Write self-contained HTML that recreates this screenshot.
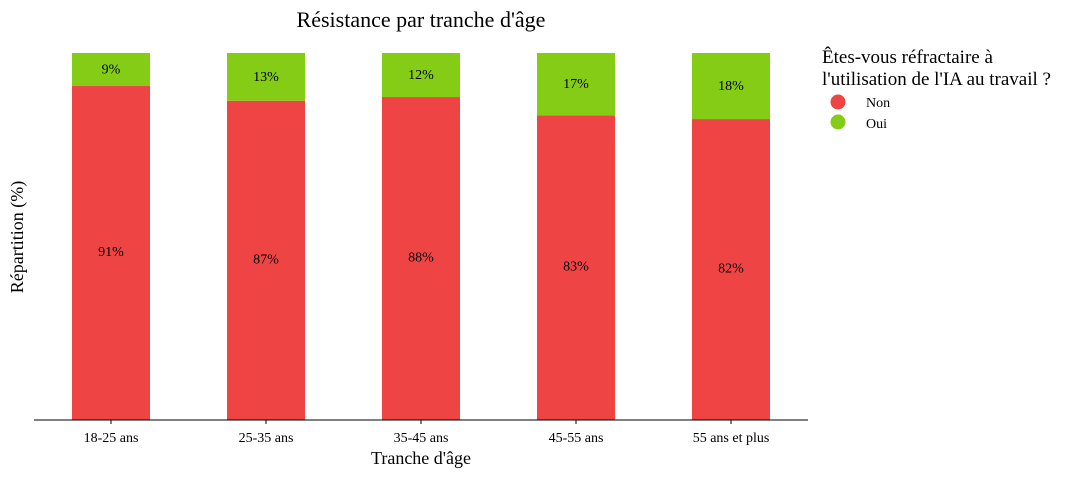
<!DOCTYPE html>
<html><head><meta charset="utf-8"><style>
html,body{margin:0;padding:0;background:#fff;}
svg{display:block;font-family:"Liberation Serif","DejaVu Serif",serif;}
</style></head><body>
<svg id="chart" width="1073" height="477">
<text x="421" y="27" font-size="22" text-anchor="middle">Résistance par tranche d'âge</text>
<text transform="translate(23,237) rotate(-90)" font-size="18" text-anchor="middle">Répartition (%)</text>
<text x="421" y="464" font-size="18" text-anchor="middle">Tranche d'âge</text>
<g id="bars"></g>
<g id="ticks"></g>
<line x1="34" x2="808" y1="420" y2="420" stroke="#000" stroke-width="1"/>
<g>
<text x="822" y="63" font-size="19">Êtes-vous réfractaire à</text>
<text x="822" y="85" font-size="19">l'utilisation de l'IA au travail ?</text>
<g><circle cx="838" cy="102" r="7.5" fill="#EF4444"/><text x="866" y="107" font-size="14">Non</text></g>
<g><circle cx="838" cy="122" r="7.5" fill="#84CC16"/><text x="866" y="128" font-size="14">Oui</text></g>
</g>
</svg>
<script>
const categories=["18-25 ans","25-35 ans","35-45 ans","45-55 ans","55 ans et plus"];
const nonValues=[91,87,88,83,82];
const ouiValues=[9,13,12,17,18];
const NS="http://www.w3.org/2000/svg";
const x0=34,step=155,bw=78,yBase=420,yTop=53;
const xc=i=>x0+77+i*step;
const y=v=>yBase-(v/100)*(yBase-yTop);
const bars=document.getElementById('bars'),ticks=document.getElementById('ticks');
function mk(t,a){const e=document.createElementNS(NS,t);for(const k in a)e.setAttribute(k,a[k]);return e;}
categories.forEach((c,i)=>{
  const total=nonValues[i]+ouiValues[i];
  const n=nonValues[i]/total*100,o=ouiValues[i]/total*100;
  const r=mk('rect',{x:xc(i)-bw/2,y:y(n),width:bw,height:yBase-y(n),fill:'#EF4444'});
  
  
  bars.appendChild(r);
  const g=mk('rect',{x:xc(i)-bw/2,y:y(n+o),width:bw,height:y(n)-y(n+o),fill:'#84CC16'});
  
  
  bars.appendChild(g);
  const t1=mk('text',{x:xc(i),y:(y(n)+yBase)/2+3,'font-size':14,'text-anchor':'middle'});
  t1.textContent=nonValues[i]+'%';
  
  
  bars.appendChild(t1);
  const t2=mk('text',{x:xc(i),y:(y(n)+y(n+o))/2+4,'font-size':14,'text-anchor':'middle'});
  t2.textContent=ouiValues[i]+'%';
  
  
  bars.appendChild(t2);
  const tk=mk('line',{x1:xc(i),x2:xc(i),y1:yBase,y2:yBase+4,stroke:'#000'});
  
  
  ticks.appendChild(tk);
  const tl=mk('text',{x:xc(i),y:442,'font-size':14,'text-anchor':'middle'});
  tl.textContent=c;
  
  
  ticks.appendChild(tl);
});
</script>
</body></html>
